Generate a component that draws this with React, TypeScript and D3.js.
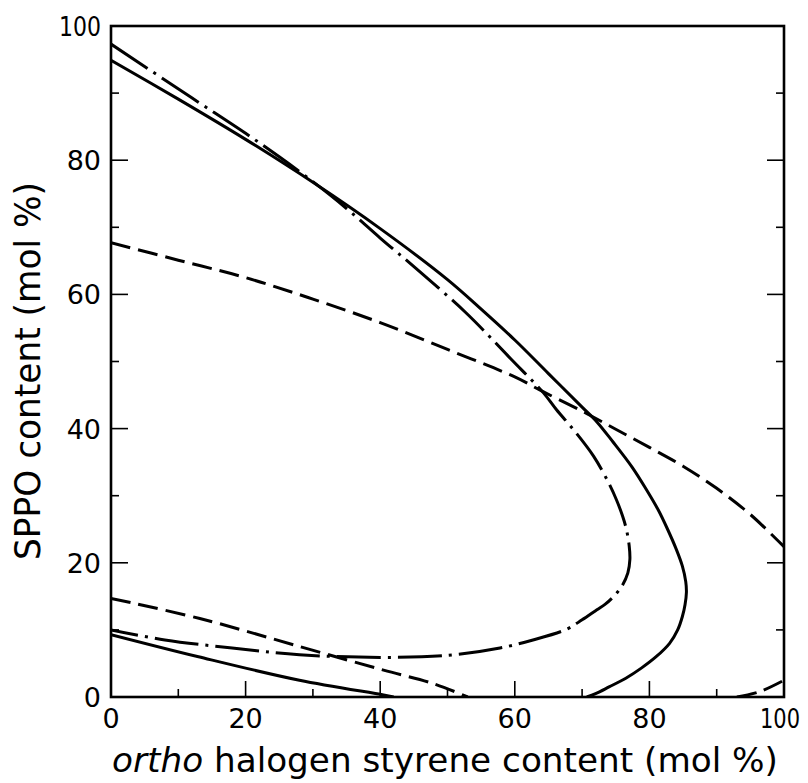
import React from "react";
import * as d3 from "d3";

// ---- data (mol %) ----
const xTickValues = [0, 20, 40, 60, 80, 100];
const yTickValues = [0, 20, 40, 60, 80, 100];
const minorTickValues = [10, 30, 50, 70, 90];

// solid curves
const solidUpperX = [0, 10, 20, 30, 40, 50, 55, 60, 65, 70, 72.2, 74.6, 77.4, 79.5, 81.3, 82.7, 84, 84.9, 85.4, 85.5, 85.3, 84.9, 84.2, 83, 81, 78.8, 76.5, 74, 72, 70.7];
const solidUpperY = [94.9, 89.1, 83.1, 76.7, 69.8, 62.2, 57.8, 53.2, 48.2, 43.2, 41, 38, 34.3, 31, 27.9, 25, 22, 19.5, 17.2, 15.6, 13.8, 12, 10, 8, 6, 4.3, 2.8, 1.5, 0.5, 0];
const solidLowerX = [0, 13, 28, 40.5, 42];
const solidLowerY = [9.3, 6, 2.5, 0.3, 0];

// dash-dot curve
const dashDotX = [0, 12, 20, 25, 30, 35, 40, 45.4, 52.7, 59.5, 64.2, 66.2, 69, 71.7, 73.9, 75.1, 76, 76.6, 77, 77.1, 76.8, 75.9, 74.7, 73.4, 72.2, 70, 67.7, 62.7, 57.8, 50, 40, 28, 18, 8, 0];
const dashDotY = [97.3, 89.3, 84, 80.5, 76.8, 72.8, 68.4, 63.8, 57.3, 50.3, 45.4, 42.8, 39.5, 35.9, 32, 29.4, 27, 24.9, 22.5, 20.5, 18.5, 16.5, 15, 13.8, 13, 11.5, 10.1, 8.5, 7.3, 6.2, 5.9, 6.3, 7.3, 8.5, 10];

// dashed curves
const dashedUpperX = [0, 10, 20, 30, 40, 50, 60, 64.2, 70, 75, 80, 85, 90, 95, 100];
const dashedUpperY = [67.7, 65.1, 62.5, 59.3, 55.8, 51.8, 47.7, 45.5, 42.6, 39.9, 37.2, 34.4, 31.1, 27.2, 22.4];
const dashedLowerX = [0, 13.2, 28.1, 40.5, 47.9, 53];
const dashedLowerY = [14.7, 11.7, 7.5, 4, 2, 0];
const dashedRightX = [93, 96.4, 100];
const dashedRightY = [0, 0.8, 2.5];

const W = 808;
const H = 783;
const x = d3.scaleLinear().domain([0, 100]).range([111, 784]);
const y = d3.scaleLinear().domain([0, 100]).range([697, 26]);

const zip = (xs: number[], ys: number[]) => xs.map((v, i) => [v, ys[i]] as [number, number]);

const line = d3
  .line<[number, number]>()
  .x((d) => x(d[0]))
  .y((d) => y(d[1]))
  .curve(d3.curveCatmullRom.alpha(0.5));

const FONT = "'DejaVu Sans', 'Liberation Sans', sans-serif";

export default function App() {
  const curves = [
    { d: zip(solidUpperX, solidUpperY), dash: undefined },
    { d: zip(solidLowerX, solidLowerY), dash: undefined },
    { d: zip(dashDotX, dashDotY), dash: "44,7,3,7" },
    { d: zip(dashedUpperX, dashedUpperY), dash: "20,8" },
    { d: zip(dashedLowerX, dashedLowerY), dash: "20,8" },
    { d: zip(dashedRightX, dashedRightY), dash: "20,8" },
  ];
  const [x0, x1] = x.range();
  const [y0, y1] = y.range();
  return (
    <svg
      width={W}
      height={H}
      viewBox={`0 0 ${W} ${H}`}
      style={{ position: "absolute", left: 0, top: 0, background: "#fff" }}
    >
      <defs>
        <clipPath id="plot">
          <rect x={x0} y={y1} width={x1 - x0} height={y0 - y1} />
        </clipPath>
      </defs>
      {/* curves */}
      <g clipPath="url(#plot)" fill="none" stroke="#000" strokeWidth={3}>
        {curves.map((c, i) => (
          <path key={i} d={line(c.d) || ""} strokeDasharray={c.dash} />
        ))}
      </g>
      {/* ticks: bottom, left, right (inward) */}
      <g stroke="#000" strokeWidth={1.6}>
        {xTickValues.map((v) => (
          <line key={"bx" + v} x1={x(v)} x2={x(v)} y1={y0} y2={y0 - 16} />
        ))}
        {minorTickValues.map((v) => (
          <line key={"bm" + v} x1={x(v)} x2={x(v)} y1={y0} y2={y0 - 8} />
        ))}
        {yTickValues.map((v) => (
          <line key={"ly" + v} x1={x0} x2={x0 + 17} y1={y(v)} y2={y(v)} />
        ))}
        {minorTickValues.map((v) => (
          <line key={"lm" + v} x1={x0} x2={x0 + 8} y1={y(v)} y2={y(v)} />
        ))}
        {yTickValues.map((v) => (
          <line key={"ry" + v} x1={x1} x2={x1 - 17} y1={y(v)} y2={y(v)} />
        ))}
        {minorTickValues.map((v) => (
          <line key={"rm" + v} x1={x1} x2={x1 - 8} y1={y(v)} y2={y(v)} />
        ))}
      </g>
      {/* frame */}
      <rect x={x0} y={y1} width={x1 - x0} height={y0 - y1} fill="none" stroke="#000" strokeWidth={2.6} />
      {/* tick labels */}
      <g fontFamily={FONT} fontSize={27} fill="#000">
        {xTickValues.map((v) =>
          v === 100 ? (
            <text
              key={"xl" + v}
              x={x(v) + 16}
              y={728}
              textAnchor="end"
              textLength={40}
              lengthAdjust="spacingAndGlyphs"
            >
              {v}
            </text>
          ) : (
            <text key={"xl" + v} x={x(v)} y={728} textAnchor="middle">
              {v}
            </text>
          )
        )}
        {yTickValues.map((v) => (
          <text
            key={"yl" + v}
            x={101}
            y={y(v) + 10}
            textAnchor="end"
            textLength={v === 100 ? 42 : undefined}
            lengthAdjust="spacingAndGlyphs"
          >
            {v}
          </text>
        ))}
      </g>
      {/* axis titles */}
      <text
        x={112}
        y={772}
        fontFamily={FONT}
        fontSize={33}
        fill="#000"
        textLength={666}
        lengthAdjust="spacingAndGlyphs"
      >
        <tspan fontStyle="italic">ortho</tspan> halogen styrene content (mol %)
      </text>
      <text
        transform="translate(40,560) rotate(-90)"
        x={0}
        y={0}
        fontFamily={FONT}
        fontSize={35}
        fill="#000"
        textLength={378}
        lengthAdjust="spacingAndGlyphs"
      >
        SPPO content (mol %)
      </text>
    </svg>
  );
}
